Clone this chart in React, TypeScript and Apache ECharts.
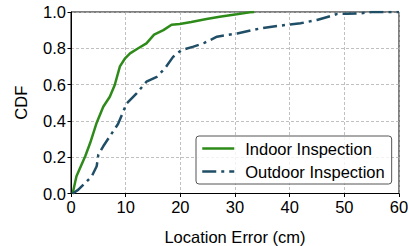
import React, { useEffect, useRef } from "react";
import * as echarts from "echarts";

const xTicks = [0, 10, 20, 30, 40, 50, 60];
const yTicks = [0, 0.2, 0.4, 0.6, 0.8, 1.0];

const indoorX = [0.3, 1.0, 2.6, 3.5, 4.7, 5.9, 7.1, 8.0, 8.95, 9.9, 10.8, 12.3, 13.8, 15.2, 16.9, 18.4, 19.9, 22.0, 24.8, 27.2, 30.3, 32.7, 33.5];
const indoorP = [0, 0.095, 0.205, 0.278, 0.39, 0.478, 0.533, 0.598, 0.7, 0.745, 0.772, 0.8, 0.827, 0.875, 0.9, 0.93, 0.934, 0.945, 0.961, 0.974, 0.987, 0.998, 1.0];

const outdoorX = [0.3, 1.3, 2.6, 3.8, 4.7, 5.0, 5.9, 7.1, 8.6, 10.2, 12.0, 13.8, 15.7, 17.2, 18.7, 20.2, 22.4, 24.4, 26.7, 30.4, 34.7, 37.7, 42, 45, 48.1, 48.7, 50.5, 53, 55, 60];
const outdoorP = [0, 0.02, 0.058, 0.095, 0.15, 0.214, 0.26, 0.315, 0.383, 0.497, 0.552, 0.616, 0.643, 0.69, 0.754, 0.79, 0.809, 0.83, 0.864, 0.882, 0.91, 0.923, 0.938, 0.956, 0.983, 0.99, 0.99, 0.993, 1.0, 1.0];

const seriesNames = ["Indoor Inspection", "Outdoor Inspection"];
const GREEN = "#2e8b1a";
const BLUE = "#1f4e66";
const FONT = "Liberation Sans, Arial, Helvetica, sans-serif";
const FS = 16.5;

export default function App() {
  const ref = useRef<HTMLDivElement>(null);
  useEffect(() => {
    if (!ref.current) return;
    const chart = echarts.init(ref.current, undefined, { renderer: "svg" });
    const indoor = indoorX.map((x, i) => [x, indoorP[i]]);
    const outdoor = outdoorX.map((x, i) => [x, outdoorP[i]]);
    chart.setOption({
      animation: false,
      grid: {
        left: 71,
        right: 10,
        top: 12,
        bottom: 52.5,
        show: true,
        borderColor: "#000",
        borderWidth: 1,
        backgroundColor: "transparent",
        containLabel: false,
        outerBoundsMode: "none",
      },
      xAxis: {
        type: "value",
        min: xTicks[0],
        max: xTicks[xTicks.length - 1],
        interval: 10,
        name: "Location Error (cm)",
        nameLocation: "middle",
        nameGap: 35,
        nameTextStyle: { fontFamily: FONT, fontSize: FS, color: "#000" },
        axisLine: { show: true, lineStyle: { color: "#000", width: 1 } },
        axisTick: { show: true, length: 3.5, lineStyle: { color: "#000" } },
        axisLabel: { fontFamily: FONT, fontSize: FS, color: "#000", margin: 5 },
        splitLine: { show: true, lineStyle: { color: "#b0b0b0", type: [3, 2], width: 0.8 } },
      },
      yAxis: {
        type: "value",
        min: yTicks[0],
        max: yTicks[yTicks.length - 1],
        interval: 0.2,
        name: "CDF",
        nameLocation: "middle",
        nameGap: 42,
        nameTextStyle: { fontFamily: FONT, fontSize: FS, color: "#000" },
        axisLine: { show: true, lineStyle: { color: "#000", width: 1 } },
        axisTick: { show: true, length: 3.5, lineStyle: { color: "#000" } },
        axisLabel: {
          fontFamily: FONT,
          fontSize: FS,
          color: "#000",
          margin: 5,
          formatter: (v: number) => v.toFixed(1),
        },
        splitLine: { show: true, lineStyle: { color: "#b0b0b0", type: [3, 2], width: 0.8 } },
      },
      legend: {
        orient: "vertical",
        left: 196,
        top: 136,
        padding: [4, 7, 4, 5],
        itemGap: 6,
        itemWidth: 32,
        itemHeight: 16,
        backgroundColor: "rgba(255,255,255,0.8)",
        borderColor: "#555",
        borderWidth: 1,
        borderRadius: 3,
        itemStyle: { opacity: 0 },
        lineStyle: { width: 2.5 },
        textStyle: { fontFamily: FONT, fontSize: FS, color: "#000", padding: [0, 0, 0, 6] },
        data: seriesNames,
      },
      series: [
        {
          name: seriesNames[0],
          type: "line",
          data: indoor,
          showSymbol: false,
          symbol: "none",
          smooth: false,
          lineStyle: { color: GREEN, width: 2.5 },
          itemStyle: { color: GREEN },
        },
        {
          name: seriesNames[1],
          type: "line",
          data: outdoor,
          showSymbol: false,
          symbol: "none",
          smooth: false,
          lineStyle: { color: BLUE, width: 2.5, type: [14, 5, 3, 5], cap: "butt" },
          itemStyle: { color: BLUE },
        },
      ],
    });
    return () => chart.dispose();
  }, []);
  return <div ref={ref} style={{ width: 409, height: 246, position: "absolute", left: 0, top: 0 }} />;
}
